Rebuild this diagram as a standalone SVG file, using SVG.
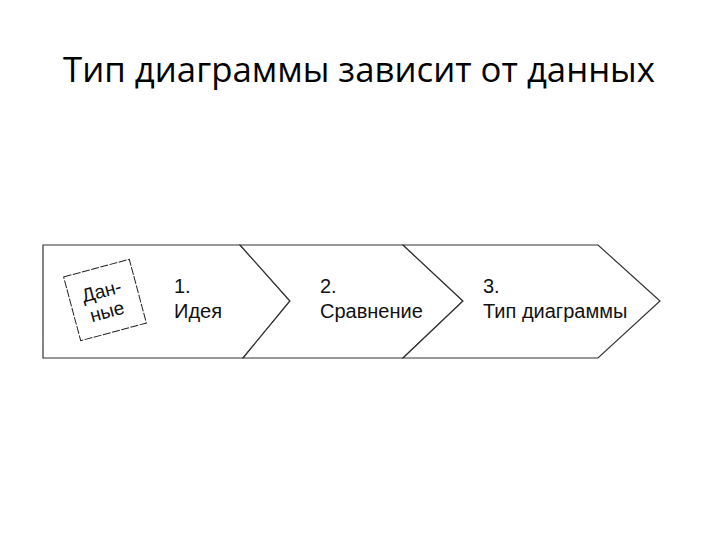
<svg xmlns="http://www.w3.org/2000/svg" width="720" height="540" viewBox="0 0 720 540">
<style>
.t{font-family:"Liberation Sans",Arial,sans-serif;font-size:20px;fill:#111}
.d{font-family:"Liberation Sans",Arial,sans-serif;font-size:19px;fill:#111}
.h{font-family:"Open Sans","Liberation Sans",sans-serif;font-size:35px;fill:#000}
.s{fill:#fff;stroke:#333;stroke-width:1.2}
</style>
<rect width="720" height="540" fill="#fff"/>
<text class="h" x="63" y="82" textLength="592" lengthAdjust="spacingAndGlyphs">Тип диаграммы зависит от данных</text>
<g id="step1">
<polygon class="s" points="43,245 240,245 290,301 243,358 43,358"/>
<text class="t" x="174" y="293">1.</text>
<text class="t" x="174" y="318">Идея</text>
</g>
<g id="data">
<g transform="rotate(-15 105 300)">
<rect x="71" y="267" width="68" height="66" fill="#fff" stroke="#222" stroke-width="1" stroke-dasharray="8 1.5"/>
<text class="d" x="104" y="297" text-anchor="middle">Дан-</text>
<text class="d" x="104" y="318" text-anchor="middle">ные</text>
</g>
</g>
<g id="step2">
<polygon class="s" points="240,245 403,245 463,301 403,358 243,358 290,301"/>
<text class="t" x="320" y="293">2.</text>
<text class="t" x="320" y="318">Сравнение</text>
</g>
<g id="step3">
<polygon class="s" points="403,245 598,245 660,301 598,358 403,358 463,301"/>
<text class="t" x="483" y="293">3.</text>
<text class="t" x="483" y="318">Тип диаграммы</text>
</g>
<g id="connectors"></g>
</svg>
